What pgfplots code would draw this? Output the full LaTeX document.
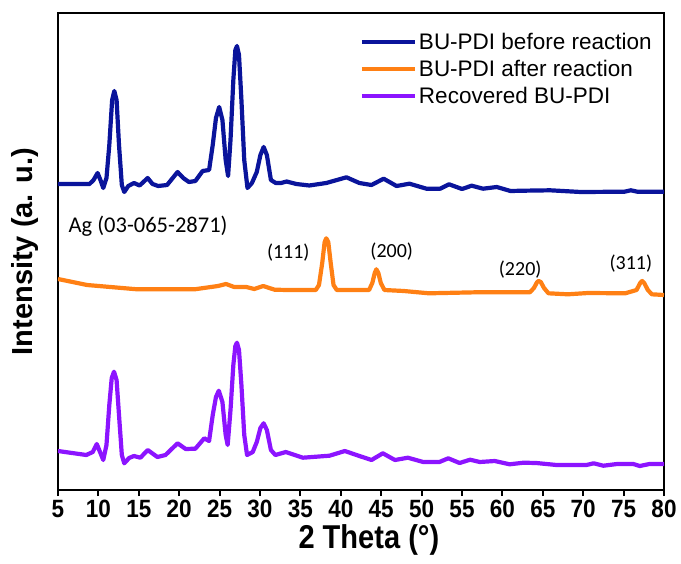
\documentclass[border=0pt]{standalone}
\usepackage{pgfplots}
\pgfplotsset{compat=1.18}
\usepackage{fontspec}
\setmainfont{Liberation Sans}
\newfontfamily\tickfont[FakeStretch=0.9]{Liberation Sans}
\newfontfamily\labfont[FakeStretch=0.88]{Liberation Sans}
\newfontfamily\calfont{Carlito}
\definecolor{cblue}{RGB}{10,20,155}
\definecolor{corange}{RGB}{255,128,20}
\definecolor{cpurple}{RGB}{140,20,255}

\pgfplotstableread{
x y
5.0 306
6.5 306
8.9 306
9.4 310
9.9 317
10.3 309
10.6 302
11.0 312
11.35 345
11.7 390
11.97 399
12.25 390
12.55 345
12.9 305
13.2 298
13.7 304
14.4 307
15.1 304.5
16.1 312
16.7 306
17.4 304
18.5 305
19.8 318
20.5 312
21.2 308
22.0 309
22.9 319
23.7 320
24.15 345
24.55 372
24.95 383
25.35 370
25.75 330
26.05 314
26.35 350
26.7 410
26.95 440
27.15 444
27.4 435
27.7 390
28.05 330
28.45 302
29.0 307
29.6 318
30.05 335
30.45 343
30.85 335
31.35 310
31.95 307
32.6 307
33.3 308.5
34.5 306
36.1 304.5
38.2 307
40.7 312.7
42.3 307
43.8 305
45.3 311.3
46.9 304
48.5 306.3
50.6 301.3
52.3 301.3
53.4 305.7
55.0 301
56.2 304.3
57.6 301.3
59.3 303
61.0 299
62.6 299.3
65.9 299.7
69.7 298
75.1 298.3
75.9 299.7
76.7 298.3
80.0 298.3
}\before

\pgfplotstableread{
x y
5.0 211
8.6 205
14.8 200.7
21.9 200.7
24.8 204
25.8 206
26.8 203
28.3 203
29.3 201
30.4 204
31.8 200.3
33.4 200
36.9 200
37.3 205
37.7 227
38.0 248
38.2 251.7
38.45 248
38.75 227
39.1 205
39.5 200
41.0 200
43.5 200
43.9 207
44.2 217
44.4 220.7
44.65 217
44.95 207
45.4 200
47.8 199
50.9 196.7
56.7 197.7
63.4 197.7
63.9 202
64.3 208
64.5 209
64.75 208
65.15 202
65.7 196.7
68.1 195.7
70.6 197
75.2 196.7
76.6 200
77.05 207
77.3 209
77.55 207
78.0 200
78.5 195.7
80.0 195
}\after

\pgfplotstableread{
x y
5.0 39
8.5 35
9.3 38
9.8 46
10.2 38
10.6 30
11.0 45
11.35 85
11.65 112
11.93 118.3
12.25 110
12.55 75
12.9 35
13.2 26.7
13.8 32
14.4 34
15.2 32.3
16.1 40
17.3 33
18.3 35
19.8 46.7
20.8 41
22.0 41.3
23.1 51.7
23.7 49
24.15 75
24.55 93
24.9 99.3
25.35 88
25.75 55
26.0 45
26.35 80
26.7 125
26.95 144
27.15 147.3
27.4 140
27.7 105
28.05 55
28.4 35
29.1 38
29.6 48
30.05 62
30.45 66.7
30.85 60
31.35 40
31.9 35
33.2 38
35.3 32.3
38.6 34.3
40.5 39
42.3 34
43.8 30
45.2 36.7
46.7 30
48.3 32.3
50.2 28
52.2 28
53.3 31.7
54.7 27
56.0 30.3
57.2 28
59.05 29
60.9 25.7
62.6 27.3
64.2 27
66.7 25
70.4 25
71.3 26.7
72.5 24.3
74.2 26
76.2 26
77.0 24
78.2 26
80.0 26
}\recovered

\begin{document}
\begin{tikzpicture}
\begin{axis}[
  scale only axis,
  width=606pt, height=477pt,
  xmin=5, xmax=80, ymin=0, ymax=477,
  xtick={5,10,...,80},
  ytick=\empty,
  xtick pos=bottom,
  tick align=outside,
  major tick length=6pt,
  every tick/.style={black, line width=2pt},
  axis line style={line width=2.6pt},
  /pgf/number format/assume math mode=true,
  xticklabel style={font=\tickfont\bfseries\fontsize{25}{25}\selectfont, inner sep=0pt, anchor=north, yshift=-4pt},
  xlabel={2 Theta (°)},
  ylabel={Intensity (a. u.)},
  xlabel style={font=\labfont\bfseries\fontsize{33}{33}\selectfont, at={(axis description cs:0.513,-0.105)}, anchor=center},
  ylabel style={font=\bfseries\fontsize{29}{29}\selectfont, at={(axis description cs:-0.055,0.5)}, anchor=center, rotate=0},
  every axis plot/.append style={line width=4.2pt, line join=round},
  legend style={at={(axis description cs:0.498,0.962)}, anchor=north west, draw=none, fill=none,
    font=\fontsize{22.5}{27}\selectfont, row sep=5pt, inner sep=0pt},
  legend cell align=left,
  legend image code/.code={\draw[#1, line width=4pt] (0pt,0pt) -- (53pt,0pt);},
]
\addplot[cblue] table {\before};
\addlegendentry{BU-PDI before reaction}
\addplot[corange] table {\after};
\addlegendentry{BU-PDI after reaction}
\addplot[cpurple] table {\recovered};
\addlegendentry{Recovered BU-PDI}

\node[anchor=west, inner sep=0pt, font=\calfont\fontsize{22.5}{22.5}\selectfont] at (axis cs:6.3,263.3) {Ag (03-065-2871)};
\node[inner sep=0pt, font=\calfont\fontsize{20}{20}\selectfont] at (axis cs:33.5,237) {(111)};
\node[inner sep=0pt, font=\calfont\fontsize{20}{20}\selectfont] at (axis cs:46.3,238.3) {(200)};
\node[inner sep=0pt, font=\calfont\fontsize{20}{20}\selectfont] at (axis cs:62.2,220) {(220)};
\node[inner sep=0pt, font=\calfont\fontsize{20}{20}\selectfont] at (axis cs:75.9,226.7) {(311)};
\end{axis}
\pgfresetboundingbox
\path (current axis.south west) ++(-58pt,-73pt) rectangle ([xshift=17pt,yshift=13pt]current axis.north east);
\end{tikzpicture}
\end{document}
